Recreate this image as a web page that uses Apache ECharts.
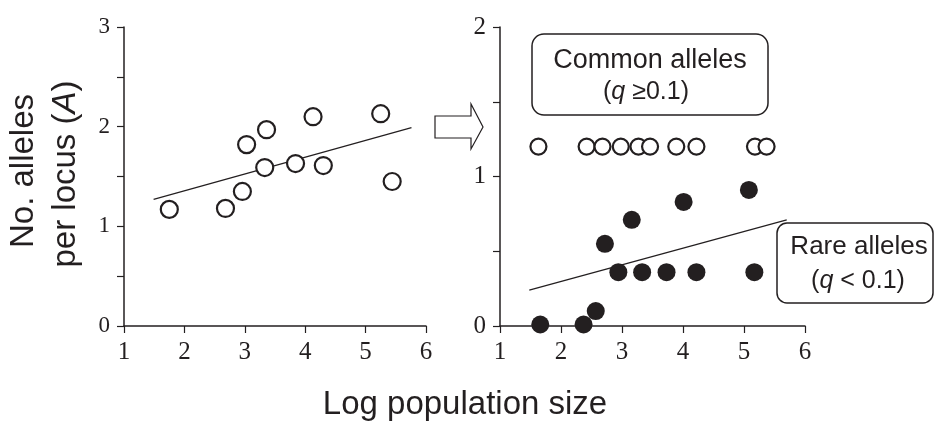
<!DOCTYPE html>
<html>
<head>
<meta charset="utf-8">
<script src="https://cdn.jsdelivr.net/npm/echarts@6/dist/echarts.min.js"></script>
<style>
  html, body { margin: 0; padding: 0; background: #fff; }
  #chart { width: 935px; height: 422px; }
</style>
</head>
<body>
<div id="chart"></div>
<script>
// left panel: all alleles
var leftX = [1.75, 2.68, 2.96, 3.03, 3.36, 3.33, 3.84, 4.13, 4.30, 5.25, 5.44];
var leftY = [1.17, 1.18, 1.35, 1.82, 1.97, 1.59, 1.63, 2.10, 1.61, 2.13, 1.45];
var leftTrendX = [1.49, 5.76];
var leftTrendY = [1.27, 1.99];

// right panel: common (open) and rare (filled) alleles
var commonX = [1.63, 2.42, 2.68, 2.98, 3.27, 3.46, 3.89, 4.22, 5.18, 5.37];
var commonY = [1.2, 1.2, 1.2, 1.2, 1.2, 1.2, 1.2, 1.2, 1.2, 1.2];
var rareX = [1.66, 2.37, 2.57, 2.72, 2.94, 3.16, 3.33, 3.73, 4.01, 4.22, 5.08, 5.17];
var rareY = [0.01, 0.01, 0.10, 0.55, 0.36, 0.71, 0.36, 0.36, 0.83, 0.36, 0.91, 0.36];
var rightTrendX = [1.48, 5.70];
var rightTrendY = [0.24, 0.71];

var xTicks = [1, 2, 3, 4, 5, 6];
var leftYMax = 3;
var rightYMax = 2;

var ink = '#231f20';
var serif = '"Liberation Serif", "DejaVu Serif", serif';

function pairs(xs, ys) {
  return xs.map(function (x, i) { return [x, ys[i]]; });
}

function xAxisFor(gridIndex) {
  return {
    gridIndex: gridIndex,
    type: 'value',
    min: xTicks[0],
    max: xTicks[xTicks.length - 1],
    interval: 1,
    splitLine: { show: false },
    axisLine: { lineStyle: { color: ink, width: 1.5 } },
    axisTick: { length: 7, lineStyle: { color: ink, width: 1.2 } },
    axisLabel: {
      margin: 14,
      color: ink,
      fontFamily: serif,
      fontSize: 25
    }
  };
}

function yAxisFor(gridIndex, max, size) {
  return {
    gridIndex: gridIndex,
    type: 'value',
    min: 0,
    max: max,
    interval: 0.5,
    splitLine: { show: false },
    axisLine: { show: true, lineStyle: { color: ink, width: 1.5 } },
    axisTick: { show: true, length: 7, lineStyle: { color: ink, width: 1.2 } },
    axisLabel: {
      margin: 14,
      color: ink,
      fontFamily: serif,
      fontSize: size,
      formatter: function (v) { return v % 1 === 0 ? String(v) : ''; }
    }
  };
}

var chart = echarts.init(document.getElementById('chart'));

var option = {
  animation: false,
  backgroundColor: '#fff',
  grid: [
    { left: 124, top: 27, width: 302, height: 299 },
    { left: 500, top: 27, width: 305, height: 299 }
  ],
  xAxis: [xAxisFor(0), xAxisFor(1)],
  yAxis: [yAxisFor(0, leftYMax, 23), yAxisFor(1, rightYMax, 25)],
  series: [
    {
      type: 'line',
      xAxisIndex: 0, yAxisIndex: 0,
      data: pairs(leftTrendX, leftTrendY),
      symbol: 'none',
      lineStyle: { color: ink, width: 1.2 },
      z: 2
    },
    {
      type: 'scatter',
      xAxisIndex: 0, yAxisIndex: 0,
      data: pairs(leftX, leftY),
      symbolSize: 17,
      itemStyle: { color: '#fff', borderColor: ink, borderWidth: 2.2, opacity: 1 },
      z: 3
    },
    {
      type: 'line',
      xAxisIndex: 1, yAxisIndex: 1,
      data: pairs(rightTrendX, rightTrendY),
      symbol: 'none',
      lineStyle: { color: ink, width: 1.2 },
      z: 2
    },
    {
      type: 'scatter',
      xAxisIndex: 1, yAxisIndex: 1,
      data: pairs(commonX, commonY),
      symbolSize: 16,
      itemStyle: { color: '#fff', borderColor: ink, borderWidth: 2.2, opacity: 1 },
      z: 3
    },
    {
      type: 'scatter',
      xAxisIndex: 1, yAxisIndex: 1,
      data: pairs(rareX, rareY),
      symbolSize: 18,
      clip: false,
      itemStyle: { color: ink, opacity: 1 },
      z: 3
    }
  ],
  graphic: [
    // y axis title
    {
      type: 'text', x: 24, y: 171, rotation: Math.PI / 2,
      style: {
        text: 'No. alleles', fill: ink,
        font: '33px "Liberation Sans"',
        align: 'center', verticalAlign: 'middle'
      }
    },
    {
      type: 'text', x: 66, y: 174, rotation: Math.PI / 2,
      style: {
        text: '{a|per locus (}{i|A}{a|)}', fill: ink,
        align: 'center', verticalAlign: 'middle',
        rich: {
          a: { fontFamily: 'Liberation Sans', fontSize: 33, fill: ink },
          i: { fontFamily: 'Liberation Sans', fontSize: 33, fontStyle: 'italic', fill: ink }
        }
      }
    },
    // x axis title
    {
      type: 'text', x: 465, y: 405,
      style: {
        text: 'Log population size', fill: ink,
        font: '33px "Liberation Sans"',
        align: 'center', verticalAlign: 'middle'
      }
    },
    // arrow between panels
    {
      type: 'polygon',
      shape: { points: [[435, 116], [471, 116], [471, 104], [483, 127], [471, 149], [471, 138], [435, 138]] },
      style: { fill: '#fff', stroke: ink, lineWidth: 1.2 }
    },
    // common alleles box
    {
      type: 'rect',
      shape: { x: 532, y: 34, width: 236, height: 81, r: 12 },
      style: { fill: '#fff', stroke: ink, lineWidth: 1.5 }
    },
    {
      type: 'text', x: 650, y: 61,
      style: {
        text: 'Common alleles', fill: ink,
        font: '27px "Liberation Sans"',
        align: 'center', verticalAlign: 'middle'
      }
    },
    {
      type: 'text', x: 646, y: 92,
      style: {
        text: '{a|(}{i|q}{a| \u22650.1)}',
        align: 'center', verticalAlign: 'middle',
        rich: {
          a: { fontFamily: 'Liberation Sans', fontSize: 25, fill: ink },
          i: { fontFamily: 'Liberation Sans', fontSize: 25, fontStyle: 'italic', fill: ink }
        }
      }
    },
    // rare alleles box
    {
      type: 'rect',
      shape: { x: 777, y: 223, width: 156, height: 80, r: 10 },
      style: { fill: '#fff', stroke: ink, lineWidth: 1.5 }
    },
    {
      type: 'text', x: 859, y: 247,
      style: {
        text: 'Rare alleles', fill: ink,
        font: '26px "Liberation Sans"',
        align: 'center', verticalAlign: 'middle'
      }
    },
    {
      type: 'text', x: 858, y: 281,
      style: {
        text: '{a|(}{i|q}{a| < 0.1)}',
        align: 'center', verticalAlign: 'middle',
        rich: {
          a: { fontFamily: 'Liberation Sans', fontSize: 25, fill: ink },
          i: { fontFamily: 'Liberation Sans', fontSize: 25, fontStyle: 'italic', fill: ink }
        }
      }
    }
  ]
};

chart.setOption(option);
</script>
</body>
</html>
